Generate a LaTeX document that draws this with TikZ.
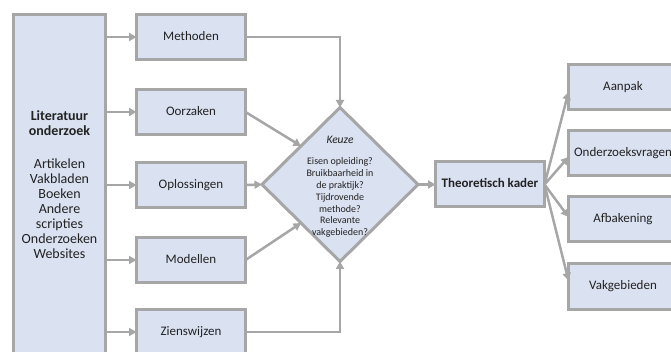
\documentclass[tikz,border=0pt]{standalone}
\usepackage{fontspec}
\setmainfont{Carlito}
\usetikzlibrary{arrows.meta,shapes.geometric}
\definecolor{boxfill}{HTML}{DAE1F1}
\definecolor{boxline}{HTML}{A6A6A6}
\definecolor{txt}{HTML}{222222}
\begin{document}
\begin{tikzpicture}[x=1pt,y=-1pt,
  boxbase/.style={draw=boxline, fill=boxfill, line width=3pt, minimum width=109pt,
    minimum height=45pt, inner sep=0pt, outer sep=0pt, text=txt,
    font=\fontsize{13}{15}\selectfont},
  box/.style={boxbase, text height=9pt, text depth=2.5pt},
  arr/.style={draw=boxline, line width=2.5pt, -{Triangle[length=7.5pt,width=8pt]}}]
\useasboundingbox (0,0) rectangle (671,352);
\clip (0,0) rectangle (671,352);
% left column
\node[boxbase, minimum width=92pt, minimum height=341pt, align=center,
  font=\fontsize{14}{15}\selectfont] (lit) at (59.5,185)
  {\textbf{Literatuur}\\\textbf{onderzoek}\\[18pt]Artikelen\\Vakbladen\\Boeken\\Andere\\scripties\\Onderzoeken\\Websites};
% middle column
\node[box] (meth) at (191,37) {Methoden};
\node[box] (oorz) at (191,112) {Oorzaken};
\node[box] (opl) at (191,185) {Oplossingen};
\node[box] (mod) at (191,260) {Modellen};
\node[box] (zien) at (191,332) {Zienswijzen};
% diamond
\node[diamond, draw=boxline, fill=boxfill, line width=3pt, minimum width=156pt,
  minimum height=154pt, inner sep=0pt, outer sep=0pt] (keuze) at (340,184.5) {};
\node[align=center, text=txt, font=\fontsize{10}{11.8}\selectfont, inner sep=0pt] (keuzetxt) at (340,186.5)
  {{\fontsize{11.5}{12}\selectfont\itshape Keuze}\\[10pt]Eisen opleiding?\\Bruikbaarheid in\\de praktijk?\\Tijdrovende\\methode?\\Relevante\\vakgebieden?};
% theoretical frame
\node[box, font=\fontsize{13}{15}\selectfont\bfseries] (tk) at (490,184.5) {Theoretisch kader};
% right column
\node[box] (aan) at (623,87) {Aanpak};
\node[box] (ovr) at (623,153) {Onderzoeksvragen};
\node[box] (afb) at (623,219) {Afbakening};
\node[box] (vak) at (623,286.5) {Vakgebieden};
% connectors
\foreach \n in {meth,oorz,opl,mod,zien}
  \draw[arr] (lit.east |- \n.west) -- (\n.west);
\draw[arr] (meth.east) -| (keuze.north);
\draw[arr] (zien.east) -| (keuze.south);
\draw[arr] (oorz.east) -- (keuze.north west);
\draw[arr] (mod.east) -- (keuze.south west);
\draw[arr] (opl.east) -- (keuze.west);
\draw[arr] (keuze.east) -- (tk.west);
\draw[arr] (tk.east) -- ([yshift=-5pt]aan.west);
\draw[arr] (tk.east) -- ([yshift=-4pt]ovr.west);
\draw[arr] (tk.east) -- ([yshift=2pt]afb.west);
\draw[arr] (tk.east) -- ([yshift=6pt]vak.west);
\end{tikzpicture}
\end{document}
